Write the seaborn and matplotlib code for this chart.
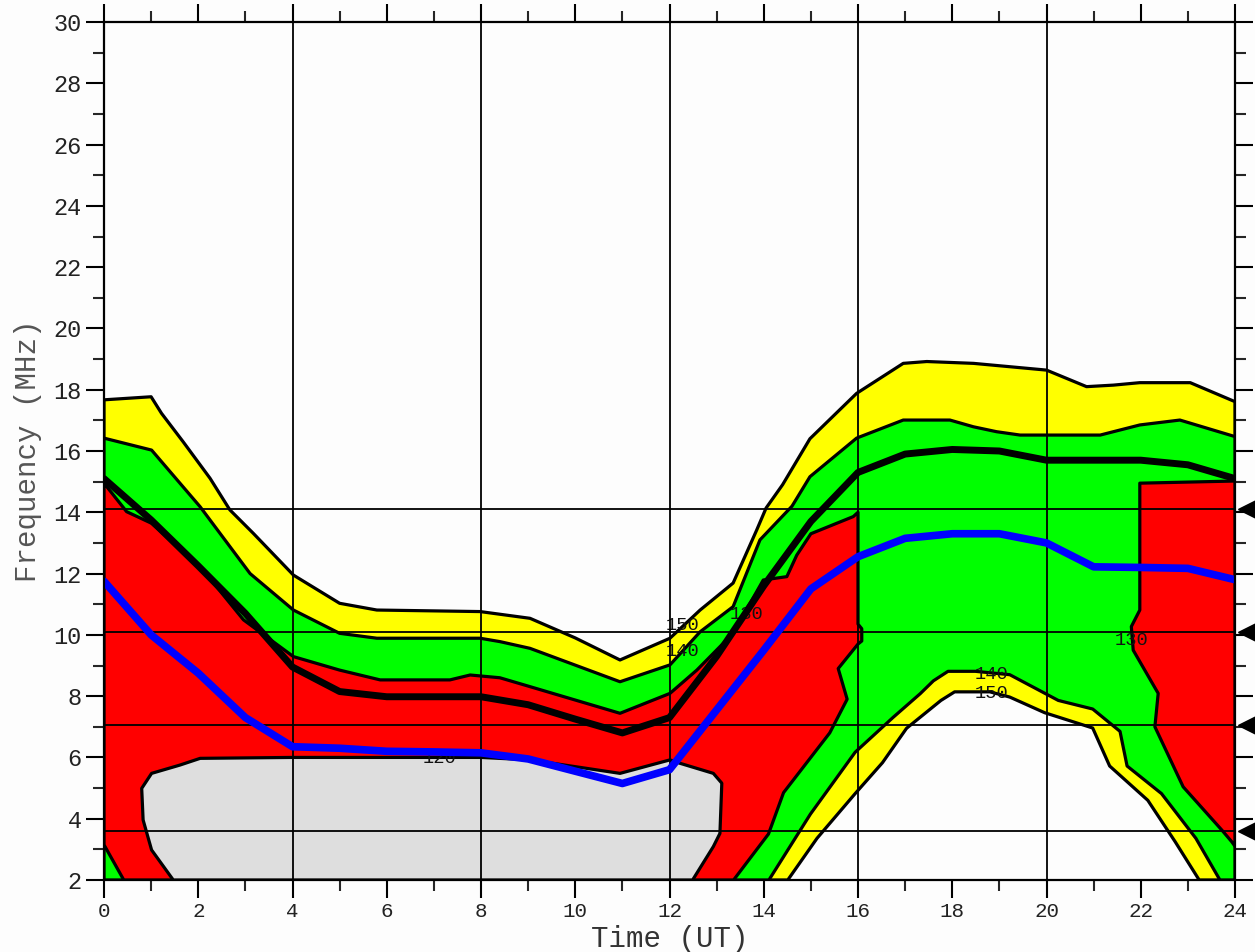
import matplotlib
matplotlib.use("Agg")
import matplotlib.pyplot as plt
import seaborn as sns
import pandas as pd
import numpy as np

# ---------------- data ----------------
hours = list(range(25))
muf_blue = [11.75, 10.0, 8.75, 7.3, 6.35, 6.3, 6.2, 6.18, 6.15, 5.95, 5.55, 5.15, 5.6,
            7.55, 9.5, 11.5, 12.55, 13.15, 13.3, 13.3, 13.0, 12.22, 12.2, 12.17, 11.8]
fot_black = [15.1, 13.75, 12.25, 10.7, 8.95, 8.15, 7.98, 7.98, 7.98, 7.72, 7.25, 6.8, 7.3,
             9.3, 11.6, 13.7, 15.3, 15.9, 16.05, 16.0, 15.7, 15.7, 15.7, 15.55, 15.1]

# contour 150 (yellow region) : upper edge and lower arch
t150_top = [0, 1.0, 1.22, 1.68, 2.25, 2.67, 3.17, 4.02, 5.0, 5.79, 7.98, 9.04, 10.0, 10.95,
            12.01, 12.65, 13.35, 13.85, 14.05, 14.4, 14.98, 15.97, 16.96, 17.46, 18.45,
            20.0, 20.85, 21.42, 21.98, 23.05, 24]
f150_top = [17.67, 17.77, 17.23, 16.3, 15.11, 14.08, 13.31, 11.95, 11.03, 10.81, 10.76,
            10.54, 9.9, 9.18, 9.89, 10.81, 11.69, 13.42, 14.14, 14.9, 16.4, 17.88, 18.86,
            18.92, 18.86, 18.64, 18.1, 18.15, 18.23, 18.23, 17.61]
t150_arch = [14.51, 15.13, 15.94, 16.52, 17.03, 17.76, 18.05, 18.8, 19.22, 19.96, 20.98,
             21.34, 22.15, 22.73, 23.24]
f150_arch = [2.0, 3.36, 4.82, 5.83, 6.95, 7.86, 8.14, 8.14, 7.97, 7.46, 6.96, 5.72, 4.6,
             3.25, 2.0]

# contour 140 (green region)
t140_top = [0, 1.01, 2.04, 3.1, 4.02, 5.0, 5.79, 7.98, 8.4, 9.04, 10.95, 12.01, 12.65,
            13.35, 13.92, 14.6, 14.98, 15.97, 16.96, 17.95, 18.45, 18.94, 19.44, 20.0,
            21.14, 21.98, 22.83, 24]
f140_top = [16.42, 16.03, 14.18, 12.0, 10.81, 10.05, 9.89, 9.89, 9.78, 9.56, 8.47, 9.02,
            10.1, 10.92, 13.1, 14.2, 15.16, 16.42, 17.01, 17.01, 16.79, 16.63, 16.52,
            16.52, 16.52, 16.85, 17.01, 16.47]
t140_arch = [14.11, 14.99, 15.94, 16.74, 17.32, 17.6, 17.91, 18.49, 19.22, 20.25, 20.98,
             21.56, 21.71, 22.44, 23.17, 23.68]
f140_arch = [2.0, 4.15, 6.17, 7.3, 8.08, 8.5, 8.81, 8.81, 8.7, 7.86, 7.58, 6.85, 5.72,
             4.82, 3.36, 2.0]

# contour 130 (red regions)
t130_left = [0.42, 0, 0, 0.48, 1.01, 2.04, 2.96, 4.02, 5.0, 5.86, 7.34, 7.77, 8.4, 9.04,
             10.95, 12.01, 12.58, 13.35, 13.99, 14.49, 14.7, 15.0, 15.9, 16.0, 16.0,
             16.08, 16.08, 16.0, 15.58, 15.77, 15.4, 14.42, 14.1, 13.36]
f130_left = [2.0, 3.15, 14.95, 14.02, 13.64, 12.23, 10.49, 9.29, 8.85, 8.53, 8.53, 8.69,
             8.6, 8.31, 7.44, 8.09, 8.85, 10.05, 11.79, 11.9, 12.6, 13.3, 13.86, 14.0,
             10.35, 10.2, 9.8, 9.7, 8.9, 7.9, 6.8, 4.85, 3.5, 2.0]
t130_right = [21.98, 24, 24, 23.93, 23.72, 22.9, 22.3, 22.37, 21.84, 21.8, 21.98]
f130_right = [14.95, 15.02, 3.1, 3.25, 3.63, 5.04, 7.0, 8.09, 9.5, 10.27, 10.81]

# contour 120 (grey region)
t120 = [1.47, 1.01, 0.83, 0.8, 1.01, 1.61, 2.04, 4.0, 8.0, 9.04, 10.95, 12.01, 12.22,
        12.93, 13.11, 13.07, 12.93, 12.49]
f120 = [2.0, 2.98, 3.96, 4.99, 5.48, 5.75, 5.97, 6.0, 6.0, 5.92, 5.48, 5.92, 5.81, 5.48,
        5.16, 3.52, 3.09, 2.0]

# contour labels
lbl_text = ["150", "140", "130", "130", "140", "150", "120"]
lbl_t = [12.27, 12.27, 13.63, 21.8, 18.84, 18.84, 7.13]
lbl_f = [10.32, 9.47, 10.65, 9.8, 8.72, 8.08, 5.98]

band_freqs = [14.1, 10.1, 7.05, 3.6]
time_grid = [4, 8, 12, 16, 20]

x_ticks = list(range(0, 25, 2))
y_ticks = list(range(2, 31, 2))

# ---------------- figure ----------------
sns.set_style("white")
plt.rcParams["font.family"] = ["Liberation Mono", "DejaVu Sans Mono"]

fig = plt.figure(figsize=(12.55, 9.52), dpi=100)
fig.patch.set_facecolor("#fdfdfd")
ax = fig.add_axes([104 / 1255, 1 - 880 / 952, (1235 - 104) / 1255, (880 - 22) / 952])
ax.set_facecolor("#fdfdfd")

edge = dict(edgecolor="black", linewidth=2.3, joinstyle="round")

# yellow (<150)
yx = t150_top + [24, 24] + t150_arch[::-1] + [0]
yy = f150_top + [17.61, 2.0] + f150_arch[::-1] + [2.0]
ax.fill(yx, yy, facecolor="#ffff00", zorder=1, **edge)
# green (<140)
gx = t140_top + [24, 24] + t140_arch[::-1] + [0]
gy = f140_top + [16.47, 2.0] + f140_arch[::-1] + [2.0]
ax.fill(gx, gy, facecolor="#00ff00", zorder=2, **edge)
# red (<130)
ax.fill(t130_left, f130_left, facecolor="#ff0000", zorder=3, **edge)
ax.fill(t130_right, f130_right, facecolor="#ff0000", zorder=3, **edge)
# grey (<120)
ax.fill(t120, f120, facecolor="#dedede", zorder=4, **edge)

for txt, tx, fy in zip(lbl_text, lbl_t, lbl_f):
    ax.text(tx, fy, txt, fontsize=13.5, ha="center", va="center", color="#111111", zorder=5)

# grid lines
for t in time_grid:
    ax.axvline(t, color="black", lw=1.3, zorder=6)
for f in band_freqs:
    ax.axhline(f, color="black", lw=1.3, zorder=6)

df = pd.DataFrame({"UT": hours, "MUF": muf_blue, "FOT": fot_black})
sns.lineplot(data=df, x="UT", y="FOT", color="black", linewidth=5, ax=ax, zorder=7,
             legend=False)
sns.lineplot(data=df, x="UT", y="MUF", color="#0000ff", linewidth=5.5, ax=ax, zorder=8,
             legend=False)

# arrows at band frequencies (outside right)
ax.plot([24.27] * len(band_freqs), band_freqs, linestyle="none", marker="<",
        markersize=14, color="black", clip_on=False, zorder=9)

ax.set_xlim(0, 24)
ax.set_ylim(2, 30)
ax.set_xticks(x_ticks)
ax.set_yticks(y_ticks)
ax.set_xticks(range(0, 25), minor=True)
ax.set_yticks(range(2, 31), minor=True)
ax.tick_params(which="major", direction="out", length=13, width=1.5, top=True,
               right=True, bottom=True, left=True, labelsize=15, colors="black",
               labelcolor="#222222", pad=3)
ax.tick_params(which="minor", direction="out", length=8, width=1.5, top=True,
               right=True, bottom=True, left=True)
ax.tick_params(axis="y", labelsize=17)
for s in ax.spines.values():
    s.set_visible(True)
    s.set_color("black")
    s.set_linewidth(1.6)
    s.set_zorder(10)

ax.set_xlabel("Time (UT)", fontsize=21, color="#333333", labelpad=3)
ax.set_ylabel("Frequency (MHz)", fontsize=21, color="#555555", labelpad=8)

fig.savefig("out.png", dpi=100, facecolor=fig.get_facecolor())
